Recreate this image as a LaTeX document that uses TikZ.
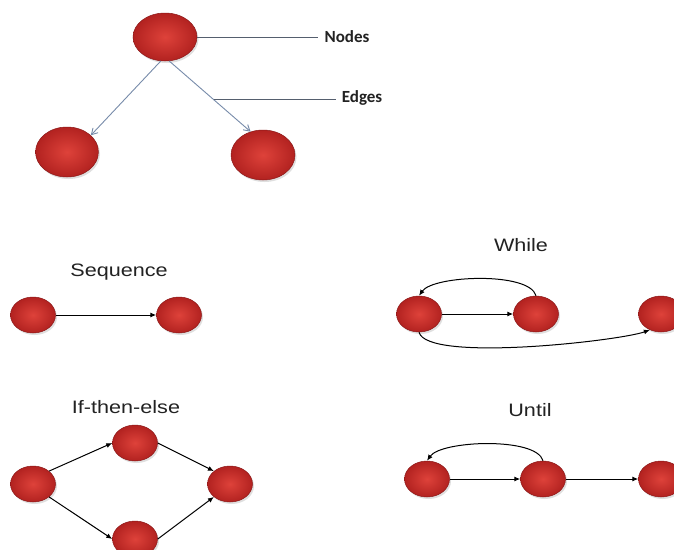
\documentclass[tikz,border=0pt]{standalone}
\usepackage{fontspec}
\setmainfont{Liberation Sans}
\newfontfamily\calfont{Carlito}
\usetikzlibrary{shapes.geometric,arrows.meta,shadows}

\definecolor{ballin}{RGB}{222,66,58}
\definecolor{ballout}{RGB}{178,34,32}
\definecolor{ballrim}{RGB}{140,25,25}
\definecolor{edgeblue}{RGB}{120,140,170}
\definecolor{leadgray}{RGB}{85,95,110}
\definecolor{labelgray}{RGB}{34,34,34}

\tikzset{
  ball/.style={ellipse, inner sep=0pt, minimum width=45pt, minimum height=36pt,
    draw=ballrim, line width=0.5pt,
    shading=radial, inner color=ballin, outer color=ballout,
    drop shadow={opacity=0.25, shadow xshift=1.5pt, shadow yshift=-2pt}},
  bigball/.style={ball, minimum width=64pt, minimum height=48pt},
  title/.style={font=\fontsize{18}{20}\selectfont, text=labelgray, xscale=1.2, transform shape},
  callout/.style={font=\calfont\bfseries\fontsize{17}{19}\selectfont, text=labelgray, inner sep=6pt},
  flow/.style={line width=1pt, -{Latex[length=6pt,width=5pt]}},
  treeedge/.style={draw=edgeblue, line width=0.9pt, -{Straight Barb[length=6pt,width=7pt]}},
  lead/.style={draw=leadgray, line width=0.8pt}
}

\begin{document}
\begin{tikzpicture}[x=1pt, y=-1pt]
  \useasboundingbox (0,0) rectangle (674,549);
  \clip (0,0) rectangle (674,549);
  \fill[white] (0,0) rectangle (674,549);

  % Tree with node and edge callouts
  \node[bigball] (t1) at (165,37) {};
  \node[bigball, minimum width=63pt, minimum height=50pt] (t2) at (67,152) {};
  \node[bigball, minimum height=50pt] (t3) at (263,155) {};
  \draw[treeedge] (t1.260) -- (t2.35);
  \draw[treeedge] (t1.280) -- coordinate[pos=0.55] (em) (t3.118);
  \node[callout] (nodesLbl) at (347,37) {Nodes};
  \node[callout] (edgesLbl) at (362,98) {Edges};
  \draw[lead] (t1.east) -- (t1.east -| nodesLbl.west);
  \draw[lead] (em) -- (em -| edgesLbl.west);

  % Sequence
  \node[title] (seqT) at (119,272) {Sequence};
  \node[ball] (s1) at (33,315) {};
  \node[ball] (s2) at (179,315) {};
  \draw[flow] (s1) -- (s2);

  % If-then-else
  \node[title] (iteT) at (126,407) {If-then-else};
  \node[ball] (i1) at (33,484) {};
  \node[ball] (i2) at (135,443) {};
  \node[ball] (i3) at (135,539) {};
  \node[ball] (i4) at (230,484) {};
  \draw[flow] (i1.north east) -- (i2.west);
  \draw[flow] (i1.south east) -- (i3.west);
  \draw[flow] (i2.east) -- (i4.north west);
  \draw[flow] (i3.east) -- (i4.south west);

  % While
  \node[title] (whT) at (521,245) {While};
  \node[ball] (w1) at (419,314) {};
  \node[ball] (w2) at (536,314) {};
  \node[ball] (w3) at (661,314) {};
  \draw[flow] (w1) -- (w2);
  \draw[flow] (w2.north) to[out=105, in=55, looseness=0.55] (w1.north);
  \draw[flow] (w1.south) to[out=-75, in=200, looseness=0.35] (w3.-125);

  % Until
  \node[title] (unT) at (530,410) {Until};
  \node[ball] (u1) at (427,479) {};
  \node[ball] (u2) at (543,479) {};
  \node[ball] (u3) at (661,479) {};
  \draw[flow] (u1) -- (u2);
  \draw[flow] (u2) -- (u3);
  \draw[flow] (u2.north) to[out=105, in=55, looseness=0.55] (u1.north);
\end{tikzpicture}
\end{document}
